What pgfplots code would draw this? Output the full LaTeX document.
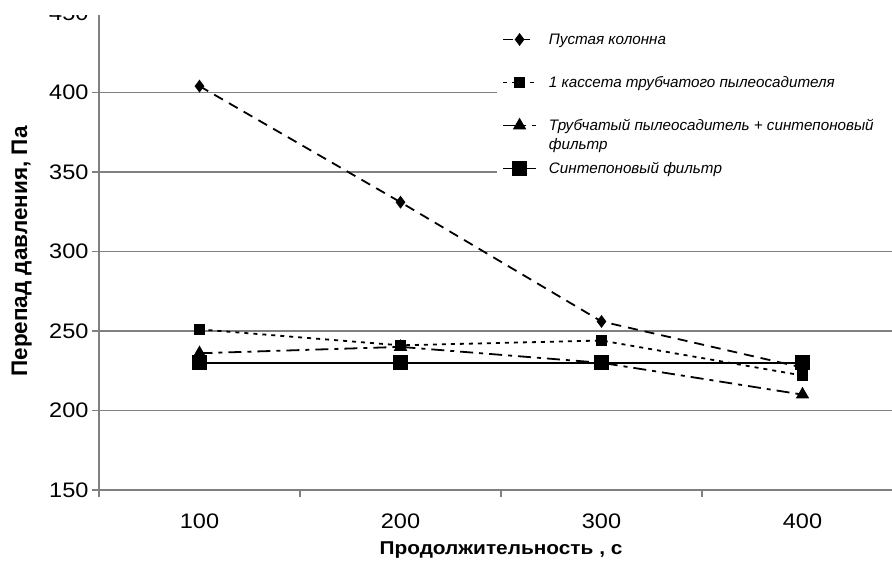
\documentclass[border=0pt]{standalone}
\usepackage{fontspec}
\setmainfont{Liberation Sans}[FakeStretch=1.12]
\newfontfamily\plainfont{Liberation Sans}
\usepackage{pgfplots}
\pgfplotsset{compat=1.18}
\begin{document}
\begin{tikzpicture}
\begin{axis}[
  at={(99bp,80bp)}, anchor=south west,
  scale only axis, width=804bp, height=477bp,
  xmin=0.5, xmax=4.5, ymin=150, ymax=450,
  axis lines*=left,
  xtick={1,2,3,4}, xticklabels={100,200,300,400},
  minor xtick={0.5,1.5,2.5,3.5,4.5},
  ytick={150,200,...,450},
  ymajorgrids,
  major grid style={draw=black!50, line width=1.6bp},
  axis line style={draw=black!50, line width=1.6bp},
  tick style={draw=black!50, line width=1.3bp},
  every major x tick/.append style={draw=none},
  major tick length=7bp, minor tick length=7bp,
  tick align=outside,
  /pgf/number format/assume math mode=true,
  tick label style={font=\fontsize{21bp}{24bp}\selectfont},
  xticklabel style={yshift=-13bp},
  xlabel={\bfseries Продолжительность , с},
  ylabel={\plainfont\bfseries Перепад давления, Па},
  every axis x label/.style={at={(axis description cs:0.5,-0.126)}, anchor=center, font=\fontsize{18.6bp}{22bp}\selectfont},
  every axis y label/.style={at={(axis description cs:-0.096,0.5)}, rotate=90, anchor=center, font=\fontsize{22.5bp}{26bp}\selectfont},
  legend cell align=left,
  legend image code/.code={\draw[line width=1.8bp, mark repeat=2, mark phase=2] plot coordinates {(0bp,0bp) (16.5bp,0bp) (33bp,0bp)};},
  legend style={at={(rel axis cs:0.4950,0.9695)}, anchor=north west, draw=none, fill=white,
    inner sep=5bp, nodes={inner sep=0pt}, column sep=12bp, row sep=29.5bp,
    font=\fontsize{15.2bp}{19bp}\selectfont\plainfont\itshape},
]
\addplot[black, line width=1.8bp, dash pattern=on 10bp off 7bp, mark=diamond*, mark size=5bp, mark options={solid}]
  coordinates {(1,404) (2,331) (3,256) (4,227)};
\addlegendentry{\raisebox{0pt}[12bp][4bp]{\makebox[350bp][l]{Пустая колонна}}}
\addplot[black, line width=1.8bp, dash pattern=on 4bp off 5bp, mark=square*, mark size=4.5bp, mark options={solid}]
  coordinates {(1,251) (2,241) (3,244) (4,222)};
\addlegendentry{\raisebox{0pt}[12bp][4bp]{1 кассета трубчатого пылеосадителя}}
\addplot[black, line width=1.8bp, dash pattern=on 13bp off 6bp on 4bp off 6bp, mark=triangle*, mark size=6bp, mark options={solid}]
  coordinates {(1,236) (2,240) (3,230) (4,210)};
\addlegendentry{\raisebox{0pt}[12bp][4bp]{\begin{tabular}[t]{@{}l@{}}Трубчатый пылеосадитель + синтепоновый\\фильтр\end{tabular}}}
\addplot[black, line width=1.8bp, mark=square*, mark size=6.5bp, mark options={solid}]
  coordinates {(1,230) (2,230) (3,230) (4,230)};
\addlegendentry{\raisebox{0pt}[12bp][4bp]{Синтепоновый фильтр}}
\end{axis}
\fill[white] (0bp,555bp) rectangle (892bp,580bp);
\pgfresetboundingbox
\useasboundingbox (0bp,0bp) rectangle (892bp,570bp);
\end{tikzpicture}
\end{document}
